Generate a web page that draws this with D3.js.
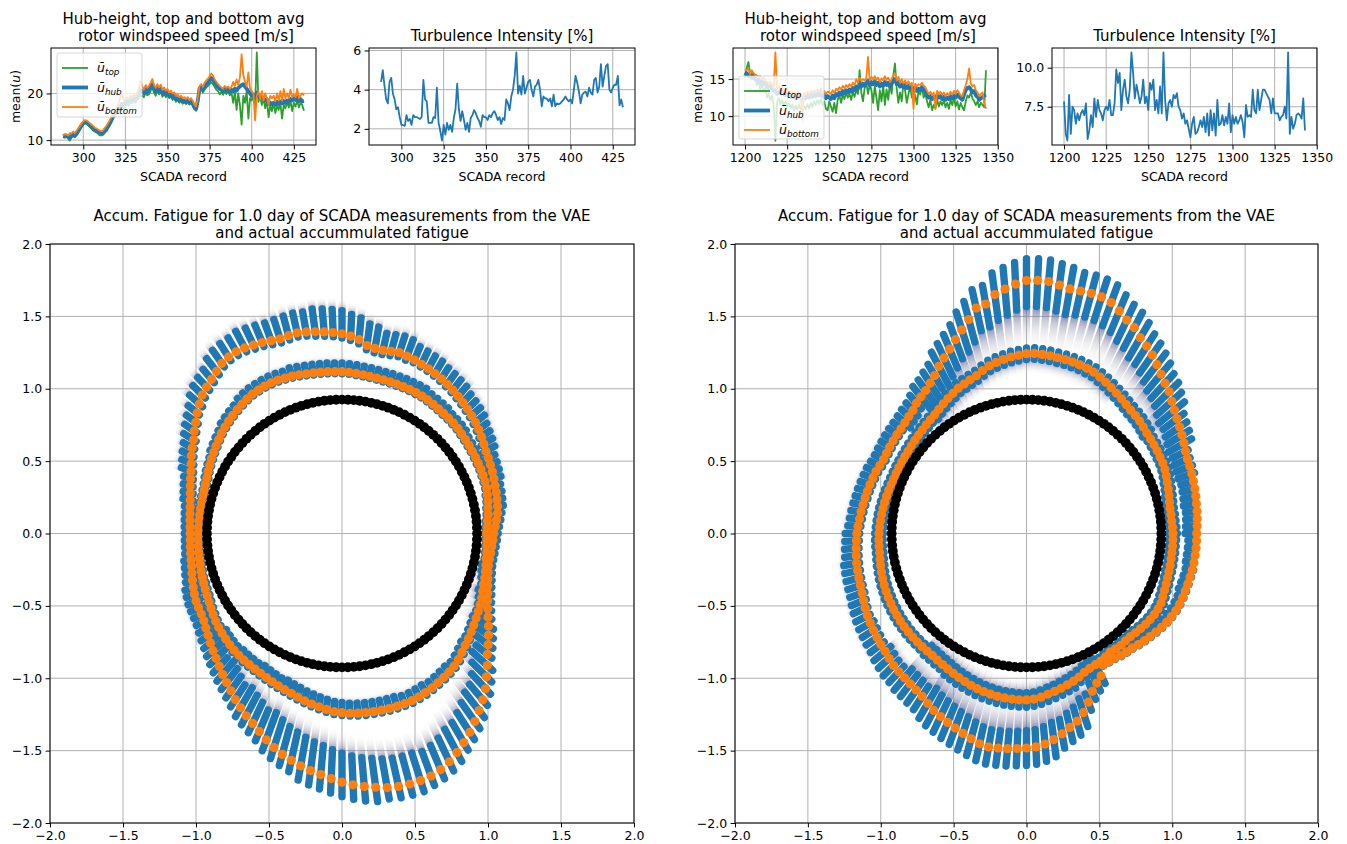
<!DOCTYPE html>
<html><head><meta charset="utf-8">
<script src="https://cdn.jsdelivr.net/npm/d3@7"></script>
<style>body{margin:0;background:#fff}svg{display:block}text{font-family:"DejaVu Sans",sans-serif}</style>
</head><body><svg id="fig" width="1347" height="844"></svg>
<script>
// ---------------- DATA ----------------
const startRecLeft = 288, startRecRight = 1200;
const xTicksLeft = [300, 325, 350, 375, 400, 425];
const xTicksRight = [1200, 1225, 1250, 1275, 1300, 1325, 1350];
const yTicksULeft = [10, 20], yTicksTILeft = [2, 4, 6];
const yTicksURight = [10, 15], yTicksTIRight = [7.5, 10.0];
const polarTicks = [-2, -1.5, -1, -0.5, 0, 0.5, 1, 1.5, 2];

const uTopLeft = [10.7,10.5,10.8,10.3,9.9,10.5,10.8,10.6,11.0,11.5,12.2,12.8,
13.4,13.6,13.5,13.1,12.8,12.4,12.0,11.8,11.6,11.3,11.0,11.0,
11.2,11.7,12.0,12.7,13.3,14.0,14.8,15.3,15.8,16.2,16.6,17.2,
16.8,17.2,17.8,17.4,18.2,17.9,18.3,18.0,18.6,19.0,19.6,19.5,
19.2,20.2,19.6,19.8,20.6,21.3,20.2,19.5,20.8,19.8,20.5,19.3,
19.9,19.2,19.7,19.0,19.4,18.6,19.0,18.2,18.6,18.0,18.4,17.8,
18.1,17.7,18.2,17.6,18.0,17.4,16.6,16.3,18.0,20.5,21.0,20.2,
20.8,21.3,21.6,22.0,22.4,22.0,21.4,20.8,20.5,19.8,20.3,19.7,
20.4,19.9,20.5,19.6,20.2,18.0,20.4,16.5,20.0,17.5,13.3,19.5,
18.0,20.5,14.6,19.0,18.5,19.5,17.0,28.8,18.2,19.5,17.5,19.0,
16.8,18.5,14.9,17.5,16.2,18.0,15.8,17.4,16.5,18.0,14.6,17.6,
16.8,18.2,17.0,18.4,16.2,18.0,17.2,18.6,17.0,18.0,17.5,16.3];
const uHubLeft = [10.8,10.9,11.0,10.7,10.6,11.0,11.2,11.0,11.5,12.0,12.6,13.2,
13.6,13.9,13.8,13.5,13.2,12.8,12.5,12.2,12.0,11.8,11.6,11.5,
11.7,12.2,12.6,13.2,13.8,14.6,15.2,15.8,16.2,16.8,17.2,17.8,
17.6,18.0,18.4,18.2,18.8,18.5,19.0,18.7,19.3,19.8,20.8,20.5,
20.0,21.0,20.3,20.8,21.5,22.0,21.0,20.5,21.2,20.5,21.0,20.0,
20.5,19.8,20.3,19.5,19.8,19.2,19.5,18.8,19.0,18.5,18.8,18.3,
18.5,18.2,18.6,18.0,18.4,17.8,17.0,16.7,18.5,21.0,21.3,20.8,
21.5,22.0,22.3,22.8,23.3,23.0,22.3,21.8,21.3,21.0,20.8,20.5,
21.0,20.6,20.9,20.4,20.8,20.5,21.0,20.6,21.2,21.5,21.8,22.0,
21.5,21.0,20.5,20.0,19.5,19.8,19.0,20.2,19.5,19.0,19.3,18.8,
18.5,18.7,17.8,18.0,17.7,18.0,17.6,18.2,17.8,18.3,17.9,18.4,
18.0,18.5,18.2,18.8,18.5,19.0,18.6,19.2,18.4,18.8,18.3,18.4];
const uBottomLeft = [11.0,11.3,11.2,11.0,11.5,11.4,11.8,11.5,12.0,12.5,13.0,13.6,
14.0,14.3,14.2,13.9,13.6,13.3,13.0,12.6,12.5,12.2,12.0,11.9,
12.2,12.7,13.2,13.8,14.4,15.2,15.8,16.5,17.0,18.0,19.2,20.0,
18.5,18.8,19.2,18.8,19.6,19.0,19.8,19.4,20.2,21.0,22.7,21.5,
20.8,21.8,21.2,21.6,22.3,23.1,21.8,21.2,22.0,21.3,21.9,20.8,
21.3,20.6,21.0,20.2,20.6,20.0,20.2,19.5,19.8,19.2,19.5,19.0,
19.2,18.8,19.2,18.6,19.0,18.4,17.6,17.2,19.0,21.6,22.0,21.4,
22.3,22.8,23.2,23.7,24.3,23.8,23.0,22.5,22.0,21.6,21.3,21.0,
21.6,21.2,21.5,21.0,21.4,22.5,21.6,23.0,21.8,23.5,28.4,24.0,
22.5,21.5,24.5,21.0,20.5,20.0,14.2,19.5,20.5,18.8,20.5,18.5,
20.0,19.0,17.6,19.5,19.0,19.5,18.3,20.0,18.5,20.5,18.4,21.0,
19.0,20.0,19.0,20.8,19.2,19.8,19.2,21.0,19.0,19.6,20.0,19.6];
const tiLeft = [4.4,5.0,4.2,3.5,3.3,4.4,4.6,3.8,3.5,3.0,3.1,2.6,
2.2,2.2,2.15,2.7,2.4,2.5,2.2,2.7,2.6,2.6,2.55,2.5,
2.6,4.5,3.5,3.4,2.3,2.3,2.3,2.6,2.55,4.1,2.3,1.9,
1.4,2.2,1.7,2.3,1.95,2.2,1.85,2.55,3.0,4.3,3.0,2.4,
2.9,2.45,1.95,2.3,1.85,2.55,2.7,2.95,2.8,2.55,2.4,2.1,
2.7,2.6,2.6,2.45,2.7,2.6,2.8,2.9,2.7,2.45,2.6,2.25,
2.55,2.45,3.5,3.3,2.95,3.65,4.0,4.7,5.9,3.8,4.2,3.75,
4.7,3.8,4.1,4.4,4.5,4.0,3.65,4.15,4.25,4.5,4.0,3.15,
3.65,3.55,3.55,3.4,3.55,3.15,3.75,3.15,3.3,3.25,3.3,3.4,
3.5,3.65,3.5,3.4,3.5,3.3,4.0,4.7,4.35,3.9,3.3,3.75,
3.85,3.9,3.65,4.1,3.85,3.75,4.5,4.6,3.85,4.15,5.3,4.15,
4.7,5.2,5.3,4.0,3.85,4.1,4.25,4.25,4.7,3.2,3.5,3.1];

const uTopRight = [15.2,16.5,17.3,15.8,16.0,15.0,15.4,14.2,14.8,13.6,14.5,13.2,
13.8,12.5,13.0,12.2,12.8,11.5,6.7,11.8,12.4,11.6,12.2,11.4,
12.0,11.2,11.8,11.0,11.6,10.8,11.4,10.9,11.5,11.0,10.5,11.3,
10.9,11.6,11.0,11.8,11.2,12.0,11.5,12.2,11.6,12.3,11.5,12.0,
11.0,10.8,12.0,11.3,10.6,11.8,10.4,12.2,12.8,11.8,12.9,12.3,
13.2,12.5,13.0,12.2,13.3,12.6,13.5,13.0,16.2,13.2,12.0,13.8,
14.5,13.0,14.2,13.5,11.8,14.0,12.5,10.8,13.5,12.0,14.2,11.5,
13.6,12.2,14.5,13.0,15.5,17.1,13.8,11.8,13.2,12.0,14.5,13.5,
11.8,13.0,14.0,12.5,13.2,12.8,11.6,13.5,12.9,14.0,12.5,13.0,
12.0,11.2,12.2,10.8,11.5,11.0,12.3,11.3,12.0,11.5,12.1,11.2,
11.8,11.0,12.2,11.5,12.5,11.3,12.0,10.9,11.8,11.2,10.8,12.0,
12.8,12.5,13.2,12.4,12.0,11.5,12.0,11.2,11.8,11.5,11.2,16.2];
const uHubRight = [15.5,15.8,15.4,15.6,15.2,15.5,15.0,14.8,14.9,14.5,14.7,14.3,
14.5,14.0,13.8,14.1,13.6,13.4,13.5,13.0,13.3,13.1,13.4,13.0,
12.8,13.1,12.9,12.6,12.8,12.5,12.7,12.4,12.8,12.5,12.2,12.6,
12.4,12.8,12.5,12.9,12.6,13.0,12.7,13.1,12.8,13.2,12.6,12.9,
12.4,12.7,12.5,12.3,12.8,12.4,13.0,12.8,13.2,12.9,13.4,13.1,
13.5,13.2,13.6,13.3,13.8,13.5,14.0,13.7,14.3,14.0,14.4,14.1,
14.5,14.8,14.2,14.6,14.3,14.7,14.2,14.5,14.0,14.4,14.1,14.6,
14.2,14.5,14.0,14.4,14.8,15.0,14.3,14.6,14.0,14.3,13.9,14.2,
13.8,14.1,13.7,13.9,13.5,13.8,13.4,13.7,13.6,13.9,13.5,13.3,
12.8,12.5,12.7,12.3,12.6,12.4,12.8,12.5,12.7,12.3,12.6,12.2,
12.5,12.3,12.7,12.4,12.8,12.5,12.9,12.6,12.4,12.2,12.9,13.5,
13.8,13.9,13.6,13.2,13.4,12.8,12.6,12.2,12.4,12.6,12.8,12.9];
const uBottomRight = [16.3,16.2,16.5,15.6,16.2,15.8,15.6,15.5,15.3,15.4,15.0,15.2,
14.8,14.6,14.4,14.7,14.2,14.0,18.6,13.8,14.0,13.6,14.0,13.5,
13.4,13.6,13.3,13.2,13.4,13.0,13.2,12.9,13.3,13.0,9.5,13.1,
12.9,13.3,13.0,13.4,13.1,13.5,13.2,13.6,13.3,13.7,13.1,13.4,
13.0,13.3,13.2,13.0,13.5,13.1,13.7,13.5,13.9,13.6,14.1,13.8,
14.2,13.9,14.3,14.0,14.5,14.2,15.0,14.5,15.2,14.8,15.0,14.8,
15.2,18.0,14.8,15.3,15.0,15.4,14.9,15.2,14.6,15.1,14.8,15.4,
14.9,15.2,14.6,15.0,15.5,15.8,14.8,15.3,14.5,15.0,14.4,14.8,
14.3,14.7,14.2,14.5,11.0,14.4,14.0,14.3,14.2,14.5,14.1,13.9,
13.4,13.0,13.3,12.8,13.2,11.0,13.4,13.0,13.3,12.9,13.2,12.7,
13.1,12.8,13.3,12.9,13.4,13.0,13.5,13.2,12.8,12.7,13.5,14.2,
15.0,16.4,14.4,14.0,14.2,13.5,13.2,12.7,13.0,13.2,11.8,11.0];
const tiRight = [7.83,5.76,5.33,8.26,5.76,7.5,7.28,6.41,7.07,6.63,7.07,7.28,
6.96,7.72,5.43,5.98,6.96,6.2,8.04,6.85,7.93,7.28,7.07,6.63,
7.28,7.5,7.28,7.93,6.96,6.96,7.72,9.89,9.02,9.67,7.28,8.59,
9.24,8.15,7.72,8.59,10.98,9.67,8.04,8.91,8.37,7.72,8.15,9.24,
7.72,8.15,7.28,9.02,8.59,9.24,7.28,7.93,7.07,8.8,7.07,10.98,
7.93,6.63,7.72,7.93,7.5,8.26,8.04,8.37,7.5,7.28,6.74,7.07,
6.41,6.63,6.09,5.54,6.41,6.85,5.76,5.87,6.2,6.63,6.2,6.85,
5.87,7.07,5.65,7.28,5.98,7.07,5.65,7.93,6.3,6.41,6.96,6.3,
6.85,6.41,7.72,5.87,6.96,6.41,6.85,6.41,6.63,6.96,6.52,5.54,
7.61,6.85,6.96,6.85,8.59,7.28,7.07,8.59,7.28,7.93,8.59,8.59,
8.37,8.15,7.93,7.07,8.04,7.07,7.07,7.07,6.63,6.85,6.96,7.5,
6.74,10.98,5.76,6.85,6.09,6.41,6.96,7.07,6.96,6.74,8.04,5.98];

// accumulated-fatigue radius per record (record k sits at angle k/144 of a turn)
const actualFatigueR = [0.925,0.925,0.925,0.925,0.925,0.925,0.925,0.925,0.925,0.925,0.925,0.925,
0.925,0.925,0.925,0.925,0.925,0.925,0.925,0.925,0.925,0.925,0.925,0.925,
0.925,0.925,0.925,0.925,0.925,0.925,0.925,0.925,0.925,0.925,0.925,0.925,
0.925,0.925,0.925,0.925,0.925,0.925,0.925,0.925,0.925,0.925,0.925,0.925,
0.925,0.925,0.925,0.925,0.925,0.925,0.925,0.925,0.925,0.925,0.925,0.925,
0.925,0.925,0.925,0.925,0.925,0.925,0.925,0.925,0.925,0.925,0.925,0.925,
0.925,0.925,0.925,0.925,0.925,0.925,0.925,0.925,0.925,0.925,0.925,0.925,
0.925,0.925,0.925,0.925,0.925,0.925,0.925,0.925,0.925,0.925,0.925,0.925,
0.925,0.925,0.925,0.925,0.925,0.925,0.925,0.925,0.925,0.925,0.925,0.925,
0.925,0.925,0.925,0.925,0.925,0.925,0.925,0.925,0.925,0.925,0.925,0.925,
0.925,0.925,0.925,0.925,0.925,0.925,0.925,0.925,0.925,0.925,0.925,0.925,
0.925,0.925,0.925,0.925,0.925,0.925,0.925,0.925,0.925,0.925,0.925,0.925];

const leftOuterR = [1.04,1.05,1.062,1.075,1.082,1.088,1.094,1.099,1.108,1.115,1.122,1.13,
1.138,1.152,1.166,1.18,1.193,1.205,1.216,1.226,1.237,1.248,1.258,1.267,
1.275,1.283,1.29,1.297,1.304,1.31,1.302,1.296,1.298,1.31,1.345,1.365,
1.38,1.39,1.398,1.405,1.414,1.42,1.415,1.41,1.418,1.428,1.436,1.445,
1.45,1.446,1.435,1.412,1.39,1.372,1.354,1.325,1.295,1.262,1.235,1.205,
1.185,1.163,1.14,1.12,1.104,1.09,1.076,1.065,1.056,1.05,1.045,1.042,
1.04,1.041,1.043,1.046,1.05,1.055,1.064,1.074,1.084,1.094,1.103,1.108,
1.113,1.122,1.138,1.156,1.176,1.198,1.22,1.245,1.272,1.298,1.326,1.36,
1.39,1.42,1.448,1.48,1.517,1.55,1.58,1.605,1.63,1.652,1.672,1.695,
1.718,1.738,1.755,1.768,1.782,1.79,1.792,1.79,1.783,1.765,1.74,1.705,
1.668,1.628,1.586,1.542,1.5,1.455,1.4,1.35,1.3,1.262,1.225,1.19,
1.155,1.125,1.1,1.08,1.062,1.048,1.036,1.027,1.025,1.027,1.03,1.035];
const leftInnerR = [0.99,0.995,1.0,1.01,1.015,1.025,1.03,1.04,1.043,1.046,1.05,1.052,
1.055,1.058,1.062,1.066,1.07,1.076,1.079,1.081,1.083,1.086,1.09,1.094,
1.097,1.098,1.098,1.098,1.098,1.098,1.099,1.1,1.103,1.106,1.11,1.115,
1.118,1.12,1.122,1.124,1.127,1.13,1.135,1.14,1.143,1.147,1.149,1.148,
1.145,1.142,1.135,1.126,1.117,1.108,1.098,1.088,1.078,1.065,1.053,1.042,
1.032,1.022,1.012,1.002,0.996,0.99,0.987,0.985,0.984,0.983,0.983,0.984,
0.985,0.986,0.988,0.99,0.992,0.995,0.999,1.003,1.008,1.013,1.018,1.026,
1.036,1.046,1.056,1.065,1.073,1.08,1.087,1.094,1.099,1.103,1.106,1.11,
1.115,1.122,1.13,1.139,1.148,1.158,1.17,1.184,1.196,1.208,1.22,1.232,
1.238,1.243,1.246,1.248,1.249,1.25,1.251,1.251,1.251,1.25,1.245,1.239,
1.232,1.223,1.214,1.205,1.195,1.18,1.162,1.144,1.13,1.116,1.102,1.089,
1.078,1.067,1.056,1.043,1.032,1.025,1.017,1.01,1.003,1.0,0.996,0.993];
const rightOuterR = [1.168,1.172,1.176,1.18,1.184,1.19,1.196,1.201,1.207,1.212,1.218,1.23,
1.248,1.265,1.283,1.302,1.325,1.352,1.385,1.407,1.436,1.47,1.505,1.535,
1.562,1.603,1.627,1.664,1.698,1.714,1.718,1.716,1.716,1.73,1.747,1.75,
1.748,1.725,1.695,1.665,1.61,1.595,1.53,1.475,1.425,1.378,1.338,1.302,
1.26,1.231,1.205,1.19,1.175,1.153,1.142,1.132,1.125,1.121,1.117,1.113,
1.109,1.106,1.11,1.118,1.122,1.126,1.13,1.134,1.139,1.145,1.15,1.157,
1.164,1.168,1.173,1.178,1.183,1.187,1.191,1.195,1.2,1.21,1.221,1.23,
1.238,1.245,1.252,1.26,1.266,1.278,1.29,1.296,1.302,1.31,1.32,1.333,
1.355,1.378,1.395,1.413,1.43,1.448,1.468,1.488,1.497,1.495,1.492,1.487,
1.482,1.476,1.46,1.436,1.405,1.372,1.342,1.298,1.24,1.18,1.14,1.108,
1.048,1.05,1.052,1.062,1.068,1.072,1.085,1.096,1.107,1.118,1.13,1.14,
1.148,1.155,1.158,1.159,1.159,1.16,1.162,1.165,1.167,1.167,1.168,1.168];
const rightInnerR = [1.005,1.003,1.0,1.0,1.0,1.005,1.012,1.02,1.028,1.038,1.048,1.054,
1.058,1.063,1.068,1.073,1.078,1.088,1.098,1.105,1.112,1.123,1.136,1.149,
1.163,1.178,1.192,1.206,1.214,1.221,1.226,1.23,1.233,1.238,1.242,1.245,
1.242,1.233,1.224,1.212,1.2,1.186,1.165,1.143,1.13,1.118,1.108,1.092,
1.077,1.062,1.048,1.035,1.026,1.018,1.011,1.005,1.0,0.996,0.992,0.99,
0.988,0.987,0.986,0.986,0.988,0.991,0.994,0.997,1.0,1.003,1.006,1.009,
1.012,1.014,1.015,1.016,1.02,1.025,1.03,1.035,1.039,1.043,1.046,1.049,
1.052,1.054,1.056,1.057,1.058,1.059,1.059,1.06,1.06,1.062,1.067,1.073,
1.08,1.089,1.098,1.107,1.116,1.124,1.131,1.137,1.142,1.146,1.148,1.15,
1.15,1.145,1.135,1.12,1.108,1.095,1.082,1.07,1.055,1.038,1.028,1.022,
1.018,1.01,1.0,1.004,1.008,1.006,1.008,1.015,1.022,1.03,1.036,1.04,
1.042,1.04,1.032,1.025,1.02,1.015,1.012,1.01,1.008,1.007,1.006,1.006];

// VAE sample spread per 10-degree sector (offsets from the actual radius)
const leftOuterLo = [-0.03,-0.03,-0.03,-0.02,-0.02,-0.02,-0.02,-0.03,-0.03,-0.03,-0.03,-0.03,-0.03,-0.03,-0.02,-0.02,-0.02,-0.02,-0.02,-0.02,-0.03,-0.05,-0.08,-0.12,-0.16,-0.2,-0.2,-0.2,-0.2,-0.18,-0.16,-0.14,-0.1,-0.07,-0.05,-0.03];
const leftOuterHi = [0.03,0.04,0.05,0.07,0.08,0.09,0.1,0.12,0.15,0.16,0.14,0.13,0.11,0.09,0.08,0.07,0.05,0.04,0.04,0.05,0.06,0.06,0.06,0.06,0.07,0.08,0.1,0.1,0.08,0.07,0.06,0.05,0.04,0.03,0.03,0.03];
const leftOuterTail = [0,0.03,0.05,0.06,0.07,0.08,0.08,0.08,0.08,0.08,0.08,0.08,0.08,0.08,0.07,0.06,0.05,0.04,0.04,0.04,0.05,0.05,-0.06,-0.1,-0.12,-0.14,-0.15,-0.15,-0.15,-0.15,-0.14,-0.12,-0.12,-0.1,-0.06,0];
const leftInnerLo = [-0.015,-0.015,-0.015,-0.015,-0.015,-0.015,-0.015,-0.015,-0.015,-0.015,-0.015,-0.015,-0.015,-0.015,-0.015,-0.015,-0.015,-0.015,-0.015,-0.015,-0.02,-0.02,-0.04,-0.05,-0.06,-0.07,-0.07,-0.07,-0.07,-0.06,-0.05,-0.04,-0.03,-0.02,-0.015,-0.015];
const leftInnerHi = [0.015,0.015,0.02,0.03,0.04,0.05,0.06,0.06,0.06,0.06,0.06,0.05,0.05,0.04,0.03,0.02,0.015,0.015,0.015,0.015,0.015,0.015,0.02,0.02,0.02,0.02,0.02,0.02,0.02,0.02,0.02,0.02,0.015,0.015,0.015,0.015];
const leftInnerTail = [0,0,0,0,0.03,0.03,0.05,0.05,0.05,0.05,0.05,0.05,0.05,0.03,0.03,0,0,0,0,0,0,0,-0.03,-0.05,-0.05,-0.05,-0.05,-0.05,-0.05,-0.05,-0.04,-0.03,0,0,0,0];
const rightOuterLo = [-0.08,-0.09,-0.1,-0.12,-0.14,-0.15,-0.16,-0.17,-0.18,-0.18,-0.16,-0.14,-0.1,-0.05,-0.02,-0.02,-0.02,-0.02,-0.02,-0.02,-0.02,-0.03,-0.05,-0.08,-0.12,-0.12,-0.12,-0.12,-0.1,-0.06,-0.04,-0.04,-0.04,-0.04,-0.05,-0.06];
const rightOuterHi = [0.0,0.0,0.02,0.06,0.09,0.1,0.12,0.13,0.15,0.15,0.13,0.11,0.09,0.07,0.07,0.07,0.07,0.07,0.08,0.09,0.09,0.09,0.1,0.11,0.12,0.12,0.12,0.12,0.1,0.06,0.01,0.01,0.01,0.01,0.01,0.0];
const rightOuterTail = [-0.03,-0.04,-0.05,-0.1,-0.15,-0.2,-0.25,-0.28,-0.3,-0.3,-0.28,-0.22,-0.15,-0.08,0.04,0.05,0.05,0.05,0.05,0.05,0.05,0.05,-0.08,-0.15,-0.25,-0.25,-0.25,-0.25,-0.2,-0.1,-0.03,-0.03,-0.03,-0.03,-0.03,-0.03];
const rightInnerLo = [-0.03,-0.03,-0.03,-0.03,-0.04,-0.04,-0.04,-0.04,-0.04,-0.04,-0.04,-0.04,-0.04,-0.03,-0.03,-0.03,-0.03,-0.03,-0.03,-0.03,-0.03,-0.03,-0.03,-0.05,-0.05,-0.05,-0.05,-0.05,-0.05,-0.05,-0.03,-0.03,-0.03,-0.03,-0.03,-0.03];
const rightInnerHi = [0.03,0.03,0.03,0.03,0.04,0.04,0.04,0.04,0.04,0.04,0.04,0.04,0.04,0.03,0.03,0.03,0.03,0.03,0.03,0.03,0.03,0.03,0.03,0.04,0.05,0.05,0.05,0.05,0.05,0.04,0.025,0.025,0.025,0.025,0.025,0.025];
const rightInnerTail = [0,0,0,0,-0.04,-0.04,-0.1,-0.1,-0.1,-0.1,-0.1,-0.1,-0.1,0,0,0,0,0,0,0,0,0,0,-0.1,-0.1,-0.1,-0.1,-0.1,-0.1,-0.1,0,0,0,0,0,0];

// ---------------- DRAWING ----------------
const FONT = '"DejaVu Sans", sans-serif';
const FS = 12.5, TFS = 15;
const C0 = "#1f77b4", C1 = "#ff7f0e", C2 = "#2ca02c";
const svg = d3.select("#fig");
const defs = svg.append("defs");

function styleAxis(g) {
  g.select(".domain").remove();
  g.selectAll(".tick line").attr("stroke", "#000").attr("stroke-width", 1);
  g.selectAll(".tick text").attr("fill", "#000").attr("font-size", FS).attr("font-family", FONT);
}
function addTitle(lines, cx, baselines) {
  lines.forEach((t, k) => svg.append("text").attr("x", cx).attr("y", baselines[k])
    .attr("text-anchor", "middle").attr("font-size", TFS).style("white-space", "pre").attr("fill", "#000").text(t));
}
function addUbar(sel, sub) {
  sel.append("tspan").attr("font-style", "italic").text("ū");
  sel.append("tspan").attr("font-style", "italic").attr("font-size", 8.8).attr("dy", 3).text(sub);
}

function linePanel(cfg) {
  const { box, start, series, xTicks, yTicks, yFmt, id } = cfg;
  const n = series[0].values.length;
  const xLo = start, xHi = start + n - 1, xm = (xHi - xLo) * 0.05;
  const x = d3.scaleLinear().domain([xLo - xm, xHi + xm]).range([box.x, box.x + box.w]);
  const all = series.flatMap(s => s.values);
  const yLo = d3.min(all), yHi = d3.max(all), ym = (yHi - yLo) * 0.05;
  const y = d3.scaleLinear().domain([yLo - ym, yHi + ym]).range([box.y + box.h, box.y]);
  const g = svg.append("g");
  g.selectAll(".gx").data(xTicks).join("line").attr("x1", d => x(d)).attr("x2", d => x(d))
    .attr("y1", box.y).attr("y2", box.y + box.h).attr("stroke", "#b0b0b0").attr("stroke-width", 1);
  g.selectAll(".gy").data(yTicks).join("line").attr("y1", d => y(d)).attr("y2", d => y(d))
    .attr("x1", box.x).attr("x2", box.x + box.w).attr("stroke", "#b0b0b0").attr("stroke-width", 1);
  defs.append("clipPath").attr("id", "clip" + id).append("rect")
    .attr("x", box.x).attr("y", box.y).attr("width", box.w).attr("height", box.h);
  const gl = g.append("g").attr("clip-path", `url(#clip${id})`);
  series.forEach(s => gl.append("path").datum(s.values)
    .attr("d", d3.line().x((d, i) => x(start + i)).y(d => y(d)))
    .attr("fill", "none").attr("stroke", s.color).attr("stroke-width", s.width).attr("stroke-linejoin", "round"));
  g.append("rect").attr("x", box.x).attr("y", box.y).attr("width", box.w).attr("height", box.h)
    .attr("fill", "none").attr("stroke", "#000").attr("stroke-width", 1);
  styleAxis(g.append("g").attr("transform", `translate(0,${box.y + box.h})`)
    .call(d3.axisBottom(x).tickValues(xTicks).tickSize(4.4).tickPadding(3.5).tickFormat(d3.format("d"))));
  styleAxis(g.append("g").attr("transform", `translate(${box.x},0)`)
    .call(d3.axisLeft(y).tickValues(yTicks).tickSize(4.4).tickPadding(3.5).tickFormat(yFmt)));
  svg.append("text").attr("x", box.x + box.w / 2).attr("y", box.y + box.h + 36).attr("text-anchor", "middle")
    .attr("font-size", FS).text("SCADA record");
  if (cfg.legend) {
    const L = cfg.legend;
    const t = svg.append("text").attr("transform", `translate(${box.x - 31},${box.y + box.h / 2}) rotate(-90)`)
      .attr("text-anchor", "middle").attr("font-size", FS);
    t.append("tspan").text("mean(");
    t.append("tspan").attr("font-style", "italic").text("u");
    t.append("tspan").text(")");
    const lg = svg.append("g").attr("transform", `translate(${L.x},${L.y})`);
    lg.append("rect").attr("width", L.w).attr("height", L.h).attr("rx", 2.5)
      .attr("fill", "#fff").attr("fill-opacity", 0.8).attr("stroke", "#ccc").attr("stroke-opacity", 0.8);
    series.forEach((s, k) => {
      const yy = 15 + k * 19.5;
      lg.append("line").attr("x1", 5).attr("x2", 31).attr("y1", yy).attr("y2", yy)
        .attr("stroke", s.color).attr("stroke-width", s.width);
      addUbar(lg.append("text").attr("x", 40).attr("y", yy + 4).attr("font-size", FS), s.sub);
    });
  }
}

function polarPanel(cfg) {
  const { box, rings, black, id } = cfg;
  const x = d3.scaleLinear().domain([-2, 2]).range([box.x, box.x + box.w]);
  const y = d3.scaleLinear().domain([-2, 2]).range([box.y + box.h, box.y]);
  const nRec = black.length;
  const ang = d3.scaleLinear().domain([0, nRec]).range([0, 2 * Math.PI]);
  const sector = d3.scaleQuantize().domain([0, nRec]).range(d3.range(36));
  const P = (r, i) => [x(r * Math.cos(ang(i))), y(r * Math.sin(ang(i)))];
  const g = svg.append("g");
  g.selectAll(".gx").data(polarTicks).join("line").attr("x1", d => x(d)).attr("x2", d => x(d))
    .attr("y1", box.y).attr("y2", box.y + box.h).attr("stroke", "#b0b0b0").attr("stroke-width", 1);
  g.selectAll(".gy").data(polarTicks).join("line").attr("y1", d => y(d)).attr("y2", d => y(d))
    .attr("x1", box.x).attr("x2", box.x + box.w).attr("stroke", "#b0b0b0").attr("stroke-width", 1);
  defs.append("clipPath").attr("id", "clip" + id).append("rect")
    .attr("x", box.x).attr("y", box.y).attr("width", box.w).attr("height", box.h);
  const gd = g.append("g").attr("clip-path", `url(#clip${id})`);
  const gFade = gd.append("g"), gBlue = gd.append("g"), gOr = gd.append("g"), gBk = gd.append("g");
  rings.forEach((ring, ri) => {
    ring.r.forEach((r, i) => {
      const k = sector(i);
      const a0 = r + ring.lo[k], a1 = r + ring.hi[k];
      const [bx1, by1] = P(a0, i), [bx2, by2] = P(a1, i);
      gBlue.append("line").attr("x1", bx1).attr("y1", by1).attr("x2", bx2).attr("y2", by2)
        .attr("stroke", C0).attr("stroke-width", 7.4).attr("stroke-linecap", "round");
      const f = ring.tail[k];
      if (f) {
        const s = f < 0 ? a0 : a1, e = s + f;
        const [fx1, fy1] = P(s, i), [fx2, fy2] = P(e, i);
        const gid = `fd${id}_${ri}_${i}`;
        const lgd = defs.append("linearGradient").attr("id", gid).attr("gradientUnits", "userSpaceOnUse")
          .attr("x1", fx1).attr("y1", fy1).attr("x2", fx2).attr("y2", fy2);
        [[0, "#4d5f9e", 0.75], [0.3, "#8585a6", 0.42], [0.65, "#b9b9c2", 0.18], [1, "#e6e6e6", 0]]
          .forEach(([o, c, op]) => lgd.append("stop").attr("offset", o).attr("stop-color", c).attr("stop-opacity", op));
        gFade.append("line").attr("x1", fx1).attr("y1", fy1).attr("x2", fx2).attr("y2", fy2)
          .attr("stroke", `url(#${gid})`).attr("stroke-width", 7.4);
      }
    });
  });
  rings.forEach(ring => {
    gOr.selectAll(null).data(ring.r).join("circle")
      .attr("cx", (r, i) => P(r, i)[0]).attr("cy", (r, i) => P(r, i)[1]).attr("r", 4.6).attr("fill", C1);
  });
  gBk.selectAll("circle").data(black).join("circle")
    .attr("cx", (r, i) => P(r, i)[0]).attr("cy", (r, i) => P(r, i)[1]).attr("r", 4.9).attr("fill", "#000");
  g.append("rect").attr("x", box.x).attr("y", box.y).attr("width", box.w).attr("height", box.h)
    .attr("fill", "none").attr("stroke", "#000").attr("stroke-width", 1);
  const fmt = d3.format(".1f");
  styleAxis(g.append("g").attr("transform", `translate(0,${box.y + box.h})`)
    .call(d3.axisBottom(x).tickValues(polarTicks).tickSize(4.4).tickPadding(3.5).tickFormat(fmt)));
  styleAxis(g.append("g").attr("transform", `translate(${box.x},0)`)
    .call(d3.axisLeft(y).tickValues(polarTicks).tickSize(4.4).tickPadding(3.5).tickFormat(fmt)));
  addTitle(["Accum. Fatigue for 1.0 day of SCADA measurements from the VAE", "and actual accummulated fatigue"],
    box.x + box.w / 2, [221, 238]);
}

const uSeries = (top, hub, bot) => [
  { values: top, color: C2, width: 1.8, sub: "top" },
  { values: hub, color: C0, width: 3.8, sub: "hub" },
  { values: bot, color: C1, width: 1.8, sub: "bottom" }];

linePanel({ id: "a", box: { x: 51, y: 48, w: 265, h: 97 }, start: startRecLeft,
  series: uSeries(uTopLeft, uHubLeft, uBottomLeft), xTicks: xTicksLeft, yTicks: yTicksULeft,
  yFmt: d3.format("d"), legend: { x: 57, y: 53, w: 85, h: 64 } });
addTitle(["Hub-height, top and bottom avg", " rotor windspeed speed [m/s]"], 183.5, [24, 41]);

linePanel({ id: "b", box: { x: 369, y: 48, w: 266, h: 97 }, start: startRecLeft,
  series: [{ values: tiLeft, color: C0, width: 1.8 }], xTicks: xTicksLeft, yTicks: yTicksTILeft, yFmt: d3.format("d") });
addTitle(["Turbulence Intensity [%]"], 502, [41]);

linePanel({ id: "c", box: { x: 733, y: 48, w: 265, h: 97 }, start: startRecRight,
  series: uSeries(uTopRight, uHubRight, uBottomRight), xTicks: xTicksRight, yTicks: yTicksURight,
  yFmt: d3.format("d"), legend: { x: 739, y: 76, w: 85, h: 63 } });
addTitle(["Hub-height, top and bottom avg", " rotor windspeed speed [m/s]"], 865.5, [24, 41]);

linePanel({ id: "d", box: { x: 1052, y: 48, w: 265, h: 97 }, start: startRecRight,
  series: [{ values: tiRight, color: C0, width: 1.8 }], xTicks: xTicksRight, yTicks: yTicksTIRight, yFmt: d3.format(".1f") });
addTitle(["Turbulence Intensity [%]"], 1184.5, [41]);

polarPanel({ id: "e", box: { x: 50, y: 244, w: 584, h: 579 }, black: actualFatigueR, rings: [
  { r: leftOuterR, lo: leftOuterLo, hi: leftOuterHi, tail: leftOuterTail },
  { r: leftInnerR, lo: leftInnerLo, hi: leftInnerHi, tail: leftInnerTail }] });
polarPanel({ id: "f", box: { x: 735, y: 244, w: 583, h: 579 }, black: actualFatigueR, rings: [
  { r: rightOuterR, lo: rightOuterLo, hi: rightOuterHi, tail: rightOuterTail },
  { r: rightInnerR, lo: rightInnerLo, hi: rightInnerHi, tail: rightInnerTail }] });
</script></body></html>
